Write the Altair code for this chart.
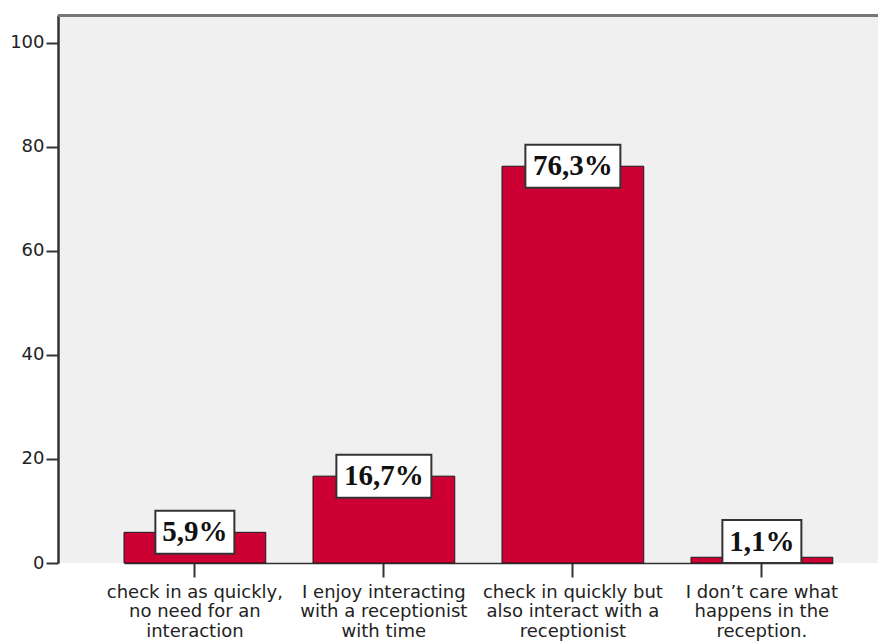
import altair as alt
import pandas as pd

categories = [
    "check in as quickly,|no need for an|interaction",
    "I enjoy interacting|with a receptionist|with time",
    "check in quickly but|also interact with a|receptionist",
    "I don’t care what|happens in the|reception.",
]
percents = [5.9, 16.7, 76.3, 1.1]
y_ticks = [0, 20, 40, 60, 80, 100]

df = pd.DataFrame({"category": categories, "percent": percents})

W, H = 820, 548
YMAX = 105.38
PX = H / YMAX
BOX_H = 43 / PX

x_axis = alt.Axis(
    title=None, labelAngle=0, labelExpr="split(datum.label, '|')",
    labelFont="DejaVu Sans", labelFontSize=18, labelColor="#222",
    labelLineHeight=19.5, labelLimit=400, labelOverlap=False, labelBound=False,
    labelPadding=6, tickSize=14, tickColor="#333", tickWidth=2,
    domainColor="#333", domainWidth=1.5,
)
y_axis = alt.Axis(
    title=None, values=y_ticks, grid=False,
    labelFont="DejaVu Sans", labelFontSize=18, labelColor="#222",
    labelPadding=2, tickSize=12, tickColor="#333", tickWidth=2,
    domainColor="#333", domainWidth=2.5,
)
x_scale = alt.Scale(range=[66, 774.75], paddingInner=0.25, paddingOuter=0)
y_scale = alt.Scale(domain=[0, YMAX], nice=False)

X = alt.X("category:N", sort=categories, scale=x_scale, axis=x_axis)

base = alt.Chart(df)

bars = base.mark_bar(color="#CD0033", stroke="#1a1a1a", strokeWidth=1).encode(
    x=X, y=alt.Y("percent:Q", scale=y_scale, axis=y_axis)
)

labeled = base.transform_calculate(
    label="replace(format(datum.percent, '.1f'), '.', ',') + '%'",
).transform_calculate(
    w="16 * length(datum.label) + 15",
    c=f"max(datum.percent, {BOX_H / 2})",
).transform_calculate(
    lo=f"datum.c - {BOX_H / 2}",
    hi=f"datum.c + {BOX_H / 2}",
)

boxes = labeled.mark_bar(fill="white", stroke="#333", strokeWidth=2).encode(
    x=X,
    y=alt.Y("lo:Q", scale=y_scale, axis=y_axis),
    y2="hi:Q",
    size=alt.Size("w:Q", scale=None, legend=None),
)

texts = labeled.mark_text(
    font="Liberation Serif", fontWeight="bold", fontSize=29,
    baseline="middle", align="center", color="#111",
).encode(
    x=X,
    y=alt.Y("c:Q", scale=y_scale, axis=y_axis),
    text="label:N",
)

top_line = alt.Chart(pd.DataFrame({"k": [0]})).mark_rule(
    color="#777", strokeWidth=3
).encode(y=alt.value(0.5), x=alt.value(0), x2=alt.value(W))

chart = alt.layer(bars, boxes, texts, top_line).properties(
    width=W, height=H, autosize="none",
    padding={"left": 50, "top": 7, "right": 0, "bottom": 81},
).configure_view(fill="#F0F0F0", stroke=None)

chart.save("out.html", embed_options={"renderer": "svg", "actions": False})
